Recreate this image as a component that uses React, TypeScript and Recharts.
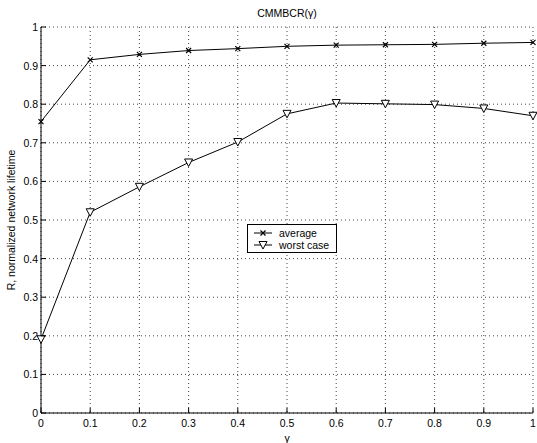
import { LineChart, Line, XAxis, YAxis, CartesianGrid, Legend } from 'recharts';

const gammas = [0, 0.1, 0.2, 0.3, 0.4, 0.5, 0.6, 0.7, 0.8, 0.9, 1];
const averageR = [0.755, 0.915, 0.929, 0.939, 0.944, 0.95, 0.953, 0.954, 0.955, 0.958, 0.96];
const worstCaseR = [0.191, 0.52, 0.586, 0.649, 0.702, 0.775, 0.803, 0.801, 0.799, 0.789, 0.77];
const xTicks = [0, 0.1, 0.2, 0.3, 0.4, 0.5, 0.6, 0.7, 0.8, 0.9, 1];
const yTicks = [0, 0.1, 0.2, 0.3, 0.4, 0.5, 0.6, 0.7, 0.8, 0.9, 1];

const data = gammas.map((g, i) => ({ g, average: averageR[i], worst: worstCaseR[i] }));

const FONT = '"Liberation Sans", Arial, Helvetica, sans-serif';
const TICK_MARGIN = 4;

function XTick(props: any) {
  const { x, y, payload } = props;
  const axisY = y - TICK_MARGIN;
  return (
    <g>
      <line x1={x} x2={x} y1={axisY} y2={axisY - 5} stroke="#000" />
      <text x={x} y={axisY + 14} textAnchor="middle" fontSize={10.5} fontFamily={FONT} fill="#000">
        {String(payload.value)}
      </text>
    </g>
  );
}

function YTick(props: any) {
  const { x, y, payload } = props;
  const axisX = x + TICK_MARGIN;
  return (
    <g>
      <line x1={axisX} x2={axisX + 5} y1={y} y2={y} stroke="#000" />
      <text x={axisX - 3} y={y + 4} textAnchor="end" fontSize={10.5} fontFamily={FONT} fill="#000">
        {String(payload.value)}
      </text>
    </g>
  );
}

function CrossDot(props: any) {
  const { cx, cy } = props;
  if (cx == null || cy == null) return null;
  const s = 2.5;
  return (
    <path
      key={`x-${cx}`}
      d={`M${cx - s},${cy - s}L${cx + s},${cy + s}M${cx - s},${cy + s}L${cx + s},${cy - s}`}
      stroke="#000"
      strokeWidth={1.2}
      fill="none"
    />
  );
}

function TriDot(props: any) {
  const { cx, cy } = props;
  if (cx == null || cy == null) return null;
  return (
    <path
      key={`t-${cx}`}
      d={`M${cx - 4},${cy - 3.5}L${cx + 4},${cy - 3.5}L${cx},${cy + 4}Z`}
      stroke="#000"
      strokeWidth={1}
      fill="#fff"
    />
  );
}

function LegendBox() {
  const rows = [
    { label: 'average', marker: 'x' },
    { label: 'worst case', marker: 'v' },
  ];
  return (
    <div style={{ border: '1px solid #000', background: '#fff', width: 88, height: 27, position: 'relative', fontFamily: FONT, fontSize: 10.5 }}>
      {rows.map((r, i) => (
        <div key={r.label} style={{ position: 'absolute', left: 4, top: 2 + i * 12, height: 12, display: 'flex', alignItems: 'center' }}>
          <svg width={22} height={12}>
            <line x1={2} x2={20} y1={6} y2={6} stroke="#000" />
            {r.marker === 'x' ? (
              <path d="M8.5,3.5L13.5,8.5M8.5,8.5L13.5,3.5" stroke="#000" strokeWidth={1.2} />
            ) : (
              <path d="M7,2.5L15,2.5L11,10Z" stroke="#000" fill="#fff" />
            )}
          </svg>
          <span style={{ marginLeft: 5, lineHeight: '12px' }}>{r.label}</span>
        </div>
      ))}
    </div>
  );
}

export default function App() {
  return (
    <div style={{ position: 'absolute', left: 0, top: 0, width: 537, height: 443, background: '#fff' }}>
      <div style={{ position: 'absolute', left: 0, width: 537, top: 6, paddingLeft: 37, boxSizing: 'border-box', textAlign: 'center', fontFamily: FONT, fontSize: 10.5, lineHeight: '14px' }}>
        CMMBCR(γ)
      </div>
      <LineChart width={537} height={443} data={data} margin={{ top: 27, right: 4, bottom: 0, left: 0 }}>
        <CartesianGrid stroke="#444" strokeDasharray="1 3" />
        <XAxis
          dataKey="g"
          type="number"
          domain={[0, 1]}
          ticks={xTicks}
          height={30}
          tickSize={0}
          tickMargin={TICK_MARGIN}
          tick={<XTick />}
          axisLine={{ stroke: '#000' }}
          interval={0}
          label={{ value: 'γ', position: 'insideBottom', offset: 1, fontSize: 10.5, fontFamily: FONT, fill: '#000' }}
        />
        <YAxis
          type="number"
          domain={[0, 1]}
          ticks={yTicks}
          width={41}
          tickSize={0}
          tickMargin={TICK_MARGIN}
          tick={<YTick />}
          axisLine={{ stroke: '#000' }}
          interval={0}
          label={{ value: 'R, normalized network lifetime', angle: -90, position: 'insideLeft', offset: 11, fontSize: 10.5, fontFamily: FONT, fill: '#000', style: { textAnchor: 'middle' } }}
        />
        <Legend
          layout="vertical"
          verticalAlign="middle"
          align="center"
          content={() => <LegendBox />}
          wrapperStyle={{ left: 247, top: 224, width: 'auto' }}
        />
        <Line dataKey="average" stroke="#000" strokeWidth={1} dot={<CrossDot />} activeDot={false} isAnimationActive={false} />
        <Line dataKey="worst" stroke="#000" strokeWidth={1} dot={<TriDot />} activeDot={false} isAnimationActive={false} />
      </LineChart>
    </div>
  );
}
